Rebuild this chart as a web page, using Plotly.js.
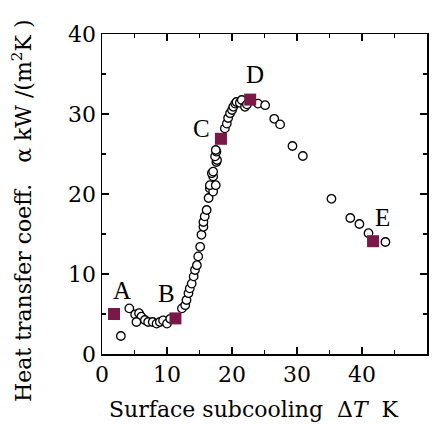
<!DOCTYPE html>
<html>
<head>
<meta charset="utf-8">
<script src="https://cdn.plot.ly/plotly-3.0.1.min.js"></script>
<style>html,body{margin:0;padding:0;background:#fff}#chart{width:440px;height:427px}</style>
</head>
<body>
<div id="chart"></div>
<script>
// Measured data (open circles)
const dT = [2.9, 4.2, 5.1, 5.7, 6.05, 5.3, 6.6, 7.1, 7.8, 8.4, 8.9, 9.4, 10.0, 10.5,
  12.3, 12.8, 13.0, 13.3, 13.5, 13.8, 14.1, 14.3, 14.6, 14.8, 15.1, 15.3, 15.6, 15.6, 15.8,
  16.1, 16.4, 16.6, 17.1, 16.6, 17.1, 16.9, 17.5, 17.1, 17.6, 17.7, 17.4, 17.6, 17.5,
  18.9, 19.2, 19.4, 19.7, 20.0, 20.2, 20.5, 20.7, 21.2, 21.5, 22.0, 22.3, 24.0, 25.1,
  26.5, 27.4, 29.3, 30.9, 35.3, 38.2, 39.6, 41.0, 43.6];
const alpha = [2.25, 5.7, 4.95, 5.1, 4.66, 4.0, 4.25, 4.0, 4.0, 3.8, 4.0, 4.2, 3.8, 4.4,
  5.7, 6.1, 6.75, 7.6, 8.2, 8.8, 9.7, 10.5, 11.1, 12.2, 13.4, 14.9, 15.9, 16.5, 17.2,
  18.0, 19.5, 20.7, 20.3, 21.1, 22.2, 22.6, 21.1, 22.8, 24.0, 24.25, 24.7, 25.3, 25.5,
  28.2, 28.8, 29.5, 30.1, 30.5, 30.9, 31.3, 31.5, 31.4, 31.75, 30.9, 31.2, 31.3, 31.1,
  29.4, 28.7, 26.0, 24.75, 19.4, 17.0, 16.25, 15.1, 14.0];
// Highlighted points A-E
const keyLabels = ["A", "B", "C", "D", "E"];
const keyDT = [1.85, 11.3, 18.3, 22.8, 41.7];
const keyAlpha = [5.0, 4.45, 26.9, 31.8, 14.1];
const xTicks = [0, 10, 20, 30, 40, 50];
const yTicks = [0, 10, 20, 30, 40];
const xTitle = "Surface subcooling  Δ<i>T</i>  K";
const yTitle = "Heat transfer coeff.   α kW /(m<sup>2</sup>K )";

const serif = "DejaVu Serif, Liberation Serif, serif";
const data = [
  {x: dT, y: alpha, type: "scatter", mode: "markers",
   marker: {symbol: "circle", size: 8.5, color: "#ffffff", line: {color: "#000000", width: 1.3}},
   hoverinfo: "none", showlegend: false},
  {x: keyDT, y: keyAlpha, type: "scatter", mode: "markers",
   marker: {symbol: "square", size: 12, color: "#7a1848", line: {width: 0}},
   hoverinfo: "none", showlegend: false}
];
const labelOffsets = [[1.3, 3.0], [-1.4, 3.1], [-3, 1.3], [0.7, 3.1], [1.5, 3.0]];
const annotations = keyLabels.map((t, i) => ({
  x: keyDT[i] + labelOffsets[i][0], y: keyAlpha[i] + labelOffsets[i][1], xref: "x", yref: "y",
  text: t, showarrow: false, font: {family: "Liberation Serif, serif", size: 25, color: "#000"}
}));
annotations.push({xref: "paper", yref: "paper", x: 0.468, y: -0.172, xanchor: "center", yanchor: "middle",
  text: xTitle, showarrow: false, font: {family: serif, size: 22, color: "#000"}});
annotations.push({xref: "paper", yref: "paper", x: -0.246, y: 0.447, xanchor: "center", yanchor: "middle",
  textangle: -90, text: yTitle, showarrow: false, font: {family: serif, size: 22, color: "#000"}});
const axisCommon = {
  showline: true, linecolor: "#000", linewidth: 1.5, mirror: "ticks",
  ticks: "inside", ticklen: 7, tickwidth: 1.3, tickcolor: "#000",
  showgrid: false, zeroline: false,
  tickfont: {family: serif, size: 22, color: "#000"},
  minor: {ticks: "inside", ticklen: 4, tickwidth: 1.2, tickcolor: "#000", dtick: 5, showgrid: false}
};
const layout = {
  width: 440, height: 427,
  margin: {l: 102, r: 13, t: 34, b: 73},
  paper_bgcolor: "#fff", plot_bgcolor: "#fff",
  xaxis: Object.assign({}, axisCommon, {range: [0, 50], tickvals: xTicks, ticktext: xTicks.map(String)}),
  yaxis: Object.assign({}, axisCommon, {range: [0, 40], tickvals: yTicks, ticktext: yTicks.map(String)}),
  annotations: annotations
};
Plotly.newPlot("chart", data, layout, {staticPlot: true, displayModeBar: false});
</script>
</body>
</html>
